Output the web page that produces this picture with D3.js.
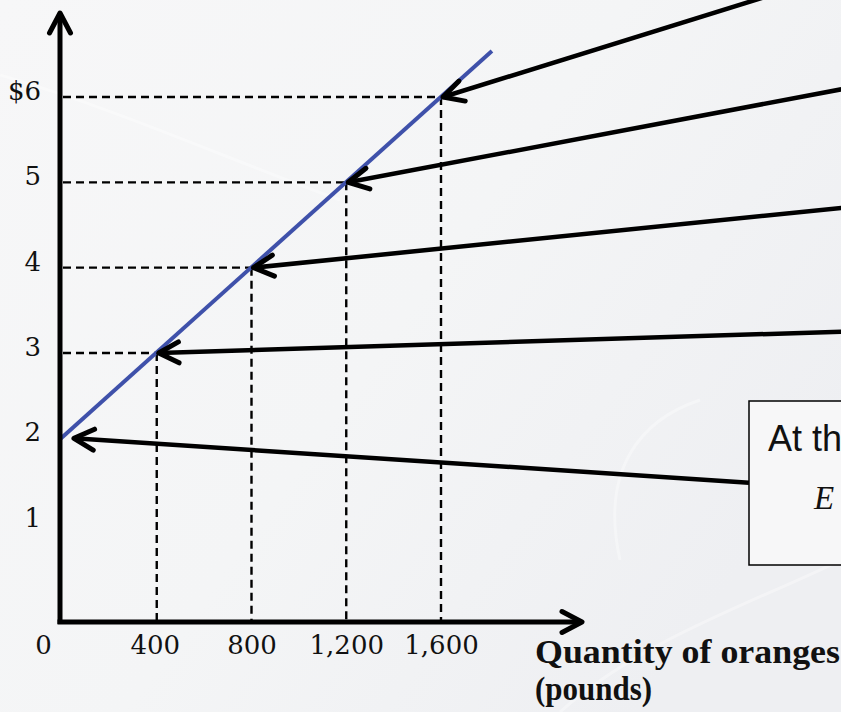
<!DOCTYPE html>
<html>
<head>
<meta charset="utf-8">
<script src="https://cdn.jsdelivr.net/npm/d3@7"></script>
<style>
  html, body { margin: 0; padding: 0; background: #f3f4f6; overflow: hidden; }
  svg { display: block; }
</style>
</head>
<body>
<div id="chart"></div>
<script>
// supply schedule points (quantity in pounds, price in $)
const quantities = [400, 800, 1200, 1600];
const prices = [3, 4, 5, 6];

// supply line ends
const supplyQty = [0, 1815];
const supplyPrice = [2, 6.54];

// tick labels
const yTicks = [1, 2, 3, 4, 5, 6];
const xTicks = [0, 400, 800, 1200, 1600];

// annotation arrows (start and tip, in data units)
const arrowFromQty = [3290, 3290, 3290, 3290, 2900];
const arrowFromPrice = [7.45, 6.09, 4.70, 3.25, 1.48];
const arrowToQty = [1600, 1200, 800, 400, 42];
const arrowToPrice = [6, 5, 4, 3, 2];

const W = 841, H = 712;

const svg = d3.select("#chart")
  .append("svg")
  .attr("width", W)
  .attr("height", H);

const defs = svg.append("defs");

// background gradient
const grad = defs.append("linearGradient")
  .attr("id", "bg")
  .attr("x1", "0%").attr("y1", "0%")
  .attr("x2", "100%").attr("y2", "60%");
grad.append("stop").attr("offset", "0%").attr("stop-color", "#f7f7f8");
grad.append("stop").attr("offset", "55%").attr("stop-color", "#f4f5f6");
grad.append("stop").attr("offset", "100%").attr("stop-color", "#eeeff2");

svg.append("rect")
  .attr("width", W)
  .attr("height", H)
  .attr("fill", "url(#bg)");

// faint light streaks in the backdrop
const streaks = [
  "M0,75 C120,110 230,160 340,200",
  "M620,560 C600,470 640,420 700,400",
  "M560,712 C640,640 760,600 841,560"
];
svg.append("g")
  .selectAll("path")
  .data(streaks)
  .enter()
  .append("path")
  .attr("d", d => d)
  .attr("fill", "none")
  .attr("stroke", "#ffffff")
  .attr("stroke-width", 3)
  .attr("opacity", 0.35);

// chevron arrow head
defs.append("marker")
  .attr("id", "chev")
  .attr("viewBox", "-26 -15 30 30")
  .attr("refX", 0)
  .attr("refY", 0)
  .attr("markerWidth", 30)
  .attr("markerHeight", 30)
  .attr("markerUnits", "userSpaceOnUse")
  .attr("orient", "auto")
  .append("path")
  .attr("d", "M-20,-10.5 L0,0 L-20,10.5")
  .attr("fill", "none")
  .attr("stroke", "#000")
  .attr("stroke-width", 5)
  .attr("stroke-linecap", "round")
  .attr("stroke-linejoin", "round");

const xScale = d3.scaleLinear().domain([0, 1600]).range([62, 441]);
const yScale = d3.scaleLinear().domain([0, 6]).range([609, 97]);

const axisX = 60;   // vertical axis position
const axisY = 622;  // horizontal axis position

const serif = "'DejaVu Serif', serif";

// dashed guide lines
const guides = svg.append("g")
  .attr("stroke", "#000")
  .attr("stroke-width", 2.4)
  .attr("stroke-dasharray", "8,5")
  .attr("fill", "none");

quantities.forEach((q, i) => {
  guides.append("line")
    .attr("x1", axisX + 3)
    .attr("x2", xScale(q))
    .attr("y1", yScale(prices[i]))
    .attr("y2", yScale(prices[i]));
  guides.append("line")
    .attr("x1", xScale(q))
    .attr("x2", xScale(q))
    .attr("y1", yScale(prices[i]))
    .attr("y2", axisY - 2);
});

// supply line
svg.append("line")
  .attr("x1", xScale(supplyQty[0]) - 2)
  .attr("y1", yScale(supplyPrice[0]) + 1)
  .attr("x2", xScale(supplyQty[1]))
  .attr("y2", yScale(supplyPrice[1]))
  .attr("stroke", "#3f51aa")
  .attr("stroke-width", 4);

// axes lines with arrow heads
svg.append("line")
  .attr("x1", axisX).attr("y1", axisY + 2)
  .attr("x2", axisX).attr("y2", 13)
  .attr("stroke", "#000")
  .attr("stroke-width", 5)
  .attr("marker-end", "url(#chev)");

svg.append("line")
  .attr("x1", axisX - 2.5).attr("y1", axisY)
  .attr("x2", 582).attr("y2", axisY)
  .attr("stroke", "#000")
  .attr("stroke-width", 5)
  .attr("marker-end", "url(#chev)");

// y tick labels
const yAxis = d3.axisLeft(yScale)
  .tickValues(yTicks)
  .tickSize(0)
  .tickPadding(19)
  .tickFormat(d => d === 6 ? "$6" : d);

const yG = svg.append("g")
  .attr("transform", `translate(${axisX},0)`)
  .call(yAxis);
yG.select(".domain").remove();
yG.selectAll("text")
  .attr("dy", "0.1em")
  .style("font-family", serif)
  .style("font-size", "26px")
  .style("fill", "#111");

// x tick labels
const xAxis = d3.axisBottom(xScale)
  .tickValues(xTicks)
  .tickSize(0)
  .tickPadding(14)
  .tickFormat(d3.format(","));

const xG = svg.append("g")
  .attr("transform", `translate(0,${axisY})`)
  .call(xAxis);
xG.select(".domain").remove();
xG.selectAll("text")
  .style("font-family", serif)
  .style("font-size", "26px")
  .style("fill", "#111")
  .attr("dx", d => d === 0 ? -19 : (d === 400 ? -2 : 0));

// x axis title
const titleFont = "'Liberation Serif', 'Times New Roman', serif";
const xTitle = svg.append("text")
  .attr("x", 535)
  .attr("y", 663)
  .style("font-family", titleFont)
  .style("font-size", "33px")
  .style("font-weight", "bold")
  .style("fill", "#111");
xTitle.append("tspan")
  .attr("x", 535)
  .attr("textLength", 305)
  .attr("lengthAdjust", "spacingAndGlyphs")
  .text("Quantity of oranges");
xTitle.append("tspan")
  .attr("x", 535)
  .attr("dy", 37)
  .attr("textLength", 117)
  .attr("lengthAdjust", "spacingAndGlyphs")
  .text("(pounds)");

// callout box (runs off the right edge)
svg.append("rect")
  .attr("x", 749)
  .attr("y", 401)
  .attr("width", 120)
  .attr("height", 164)
  .attr("fill", "#f7f7f8")
  .attr("stroke", "#000")
  .attr("stroke-width", 1.5);

svg.append("text")
  .attr("x", 768)
  .attr("y", 451)
  .style("font-family", "'Liberation Sans', Arial, sans-serif")
  .style("font-size", "36px")
  .style("fill", "#111")
  .text("At th");

svg.append("text")
  .attr("x", 814)
  .attr("y", 509)
  .style("font-family", "'Liberation Serif', 'Times New Roman', serif")
  .style("font-style", "italic")
  .style("font-size", "33px")
  .style("fill", "#111")
  .text("E");

// annotation arrows
const arrowData = arrowFromQty.map((q, i) => ({
  x1: q, y1: arrowFromPrice[i], x2: arrowToQty[i], y2: arrowToPrice[i]
}));

svg.append("g")
  .selectAll("line")
  .data(arrowData)
  .enter()
  .append("line")
  .attr("x1", d => xScale(d.x1))
  .attr("y1", d => yScale(d.y1))
  .attr("x2", d => xScale(d.x2) + 2)
  .attr("y2", d => yScale(d.y2))
  .attr("stroke", "#000")
  .attr("stroke-width", 4.5)
  .attr("marker-end", "url(#chev)");
</script>
</body>
</html>
